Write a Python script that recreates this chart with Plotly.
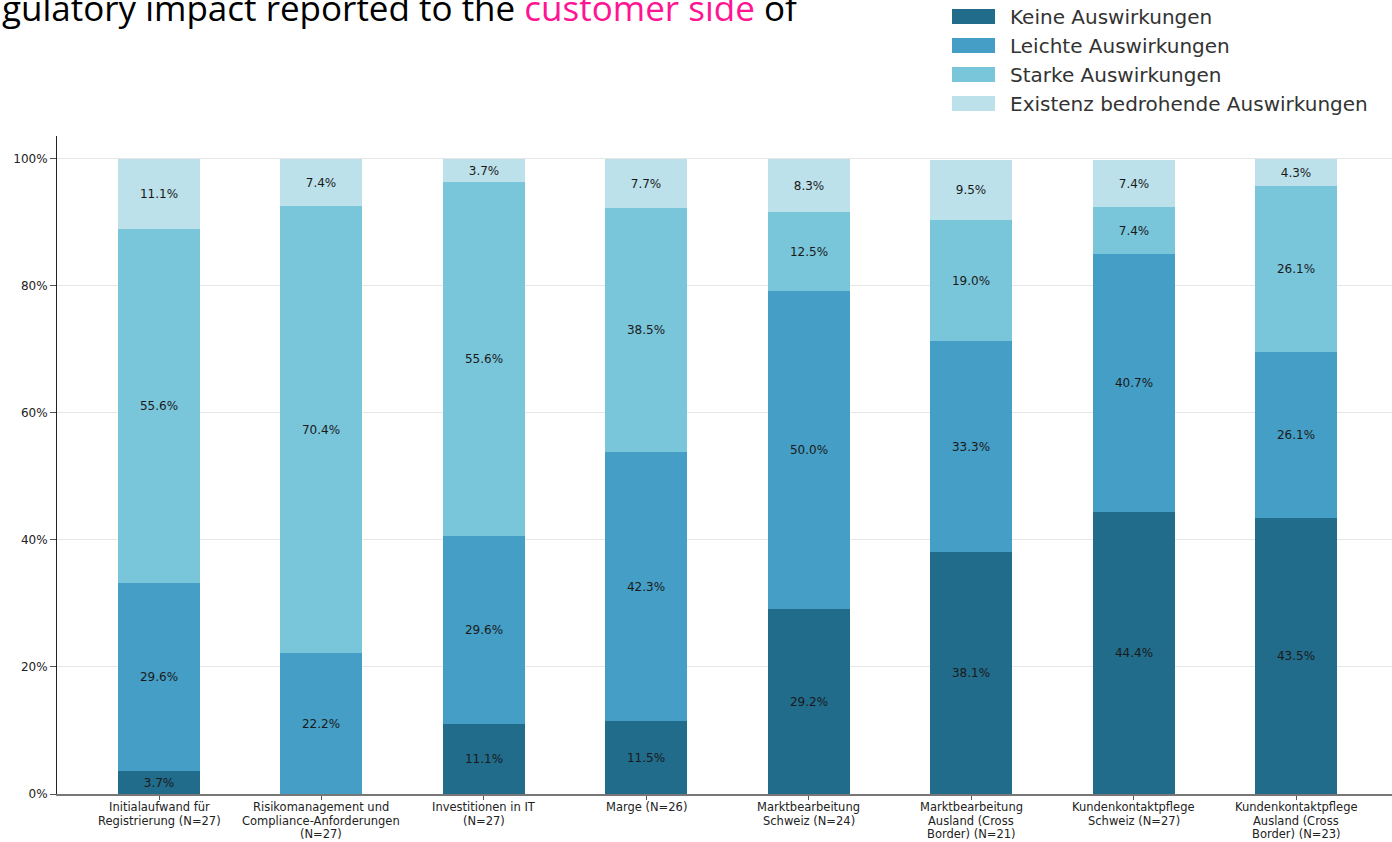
import plotly.graph_objects as go

# Survey categories (x axis), one entry per bar; "<br>" marks a line break
categories = [
    "Initialaufwand für<br>Registrierung (N=27)",
    "Risikomanagement und<br>Compliance-Anforderungen<br>(N=27)",
    "Investitionen in IT<br>(N=27)",
    "Marge (N=26)",
    "Marktbearbeitung<br>Schweiz (N=24)",
    "Marktbearbeitung<br>Ausland (Cross<br>Border) (N=21)",
    "Kundenkontaktpflege<br>Schweiz (N=27)",
    "Kundenkontaktpflege<br>Ausland (Cross<br>Border) (N=23)",
]

# Share of answers per impact level, in percent
keine = [3.7, 0.0, 11.1, 11.5, 29.2, 38.1, 44.4, 43.5]
leichte = [29.6, 22.2, 29.6, 42.3, 50.0, 33.3, 40.7, 26.1]
starke = [55.6, 70.4, 55.6, 38.5, 12.5, 19.0, 7.4, 26.1]
existenz = [11.1, 7.4, 3.7, 7.7, 8.3, 9.5, 7.4, 4.3]

series_names = [
    "Keine Auswirkungen",
    "Leichte Auswirkungen",
    "Starke Auswirkungen",
    "Existenz bedrohende Auswirkungen",
]
series_values = [keine, leichte, starke, existenz]
colors = ["#216B8B", "#449EC5", "#79C5DA", "#BCE1EA"]

y_ticks = [0, 20, 40, 60, 80, 100]

W, H = 1392, 842
ML, MR, MT, MB = 57, 0, 136, 48
PW, PH = W - ML - MR, H - MT - MB


def px_x(x):
    return (x - ML) / PW


def px_y(y):
    return (H - MB - y) / PH


fig = go.Figure()
x_idx = list(range(len(categories)))
for name, vals, col in zip(series_names, series_values, colors):
    fig.add_trace(go.Bar(
        x=x_idx,
        y=vals,
        name=name,
        width=0.505,
        marker=dict(color=col, line=dict(width=0)),
        text=[f"{v:.1f}%" if v > 0 else "" for v in vals],
        textposition="inside",
        insidetextanchor="middle",
        textangle=0,
        constraintext="none",
        textfont=dict(family="DejaVu Sans", size=12, color="#1a1a1a"),
        hoverinfo="skip",
        showlegend=False,
    ))

# Category labels under the axis, one text per line for a compact line height
for i, label in enumerate(categories):
    for k, line in enumerate(label.split("<br>")):
        fig.add_annotation(
            xref="x", yref="paper", x=i, y=px_y(807 + 13.5 * k),
            xanchor="center", yanchor="middle", showarrow=False,
            text=line, font=dict(family="DejaVu Sans", size=11.5, color="#222222"),
        )

# Legend drawn as swatches + labels
legend_top = [9, 38, 67, 96]
for i, (name, col) in enumerate(zip(series_names, colors)):
    y0 = legend_top[i]
    fig.add_shape(type="rect", xref="paper", yref="paper",
                  x0=px_x(952), x1=px_x(995), y0=px_y(y0 + 15), y1=px_y(y0),
                  fillcolor=col, line=dict(width=0))
    fig.add_annotation(xref="paper", yref="paper", x=px_x(1008), y=px_y(y0 + 8),
                       xanchor="left", yanchor="middle", showarrow=False,
                       text=name, font=dict(family="DejaVu Sans", size=20, color="#333333"))

# Heading line (partly outside the page)
fig.add_annotation(
    xref="paper", yref="paper", x=px_x(0), y=px_y(8),
    xanchor="left", yanchor="middle", showarrow=False,
    text="gulatory impact reported to the <span style='color:#FF1493'>customer side</span> of",
    font=dict(family="Open Sans", size=35, color="#000000"),
)

fig.update_layout(
    width=W, height=H,
    margin=dict(l=ML, r=MR, t=MT, b=MB, autoexpand=False),
    barmode="stack",
    bargap=0,
    paper_bgcolor="white",
    plot_bgcolor="white",
    showlegend=False,
    xaxis=dict(
        range=[-0.628, 7.59],
        tickmode="array",
        tickvals=x_idx,
        showticklabels=False,
        showline=True, linecolor="#777777", linewidth=1.5,
        ticks="outside", ticklen=4, tickcolor="#555555",
        showgrid=False, zeroline=False,
        automargin=False,
    ),
    yaxis=dict(
        range=[0, 103.6],
        tickmode="array",
        tickvals=y_ticks,
        ticktext=[f"{t}%" for t in y_ticks],
        showline=True, linecolor="#222222", linewidth=1,
        ticks="outside", ticklen=6, tickcolor="#555555",
        showgrid=True, gridcolor="#E6E6E6", gridwidth=1,
        zeroline=False,
        tickfont=dict(family="DejaVu Sans", size=12, color="#222222"),
        automargin=False,
    ),
    font=dict(family="DejaVu Sans"),
)

fig.write_html("out.html")
